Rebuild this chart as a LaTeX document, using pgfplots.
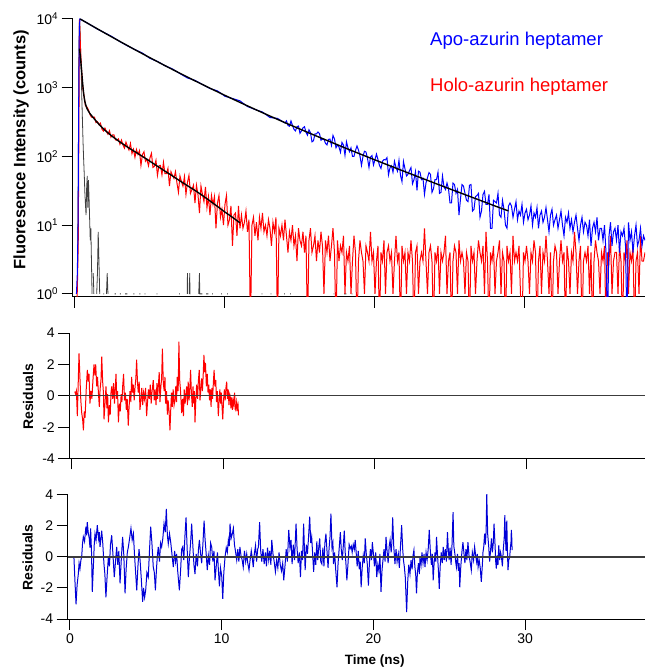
\documentclass[border=0pt]{standalone}
\usepackage{fontspec}
\setmainfont{Liberation Sans}
\usepackage{pgfplots}
\pgfplotsset{compat=1.18}
\definecolor{apoblue}{RGB}{0,0,255}
\definecolor{resblue}{RGB}{0,0,215}
\definecolor{irfgray}{RGB}{64,64,64}
\definecolor{zerogray}{RGB}{60,60,60}
\pgfplotsset{
  panel/.style={
    scale only axis,
    anchor=south west,
    axis x line*=bottom, axis y line*=left,
    axis line style={line width=1pt, black, -},
    tick align=outside,
    major tick length=11pt,
    every tick/.style={black, line width=1pt},
    tick label style={font=\fontsize{14}{14}\selectfont},
    xtick={0,10,20,30},
  }
}
\begin{document}
\begin{tikzpicture}
\path[use as bounding box] (0pt,0pt) rectangle (645pt,669pt);

% ---------------- top panel: decays ----------------
\begin{axis}[panel, at={(72.7pt,372pt)}, width=572.3pt, height=278pt,
  xmin=-0.15, xmax=38.0, ymode=log, ymin=0.9, ymax=10000,
  ytick={1,10,100,1000,10000},
  yticklabels={10\textsuperscript{0},10\textsuperscript{1},10\textsuperscript{2},10\textsuperscript{3},10\textsuperscript{4}},
  yminorticks=false, xticklabels={},
  ylabel={Fluoresence Intensity (counts)},
  ylabel style={font=\bfseries\fontsize{16.5}{16.5}\selectfont, at={(axis description cs:-0.0903,0.53)}, anchor=center}]
% IRF
\addplot[irfgray, line width=0.8pt, unbounded coords=jump] coordinates {
(0.1,nan)(0.18,3)(0.22,60)(0.26,2500)(0.3,10000)(0.34,7000)(0.38,3500)(0.42,1600)(0.46,700)(0.5,330)(0.54,160)(0.58,90)(0.62,55)(0.66,30)(0.7,20)(0.74,14)(0.78,35)(0.82,52)(0.86,18)(0.9,45)(0.94,25)(0.98,12)(1.02,6)(1.06,9)(1.1,3)(1.14,1)(1.18,nan)(1.22,2)(1.26,1)(1.3,nan)(1.45,1)(1.5,2)(1.55,8)(1.6,3)(1.65,1)(1.7,nan)(1.9,1)(1.95,1)(2.0,nan)(2.1,1)(2.15,2)(2.2,1)(2.25,nan)(2.65,1)(2.72,1)(2.76,nan)(3.0,1)(3.06,1)(3.1,nan)(3.35,1)(3.42,1)(3.5,1)(3.55,nan)(3.9,1)(3.96,1)(4.0,nan)(4.3,1)(4.36,1)(4.4,nan)(4.65,1)(4.7,1)(4.75,nan)(5.45,1)(5.5,1)(5.55,nan)(6.95,1)(7.0,1)(7.05,nan)(7.48,1)(7.5,2)(7.52,1)(7.55,nan)(7.63,1)(7.65,2)(7.67,1)(7.7,1)(7.75,nan)(8.25,1)(8.3,2)(8.32,1)(8.42,1)(8.5,1)(8.55,nan)(8.75,1)(8.82,1)(8.9,1)(8.95,nan)(9.15,1)(9.2,1)(9.25,nan)(9.75,1)(9.8,1)(9.85,nan)(10.15,1)(10.2,1)(10.25,nan)(12.45,1)(12.5,1)(12.55,nan)(13.05,1)(13.1,1)(13.15,nan)(13.95,1)(14.0,1)(14.05,nan)(14.35,1)(14.4,1)(14.45,nan)(17.25,1)(17.3,1)(17.35,nan)(17.95,1)(18.1,1)(18.15,nan)(18.45,1)(18.5,1)
};
% Holo (red) data
\addplot[red, line width=1pt] coordinates {
(0.1,0.3)(0.18,2)(0.22,6)(0.26,200)(0.3,9800)(0.33,7000)(0.36,4200)(0.4,2600)(0.45,1700)(0.5,1150)(0.55,900)
(0.6,771)(0.7,546)(0.8,523)(0.9,476)(1.0,409)(1.1,372)(1.2,374)(1.3,373)(1.4,310)(1.5,321)(1.6,290)(1.7,305)(1.8,250)(1.9,234)(2.0,258)(2.1,230)(2.2,210)(2.3,237)(2.4,191)(2.5,206)(2.6,206)(2.7,174)(2.8,172)(2.9,180)(3.0,150)(3.1,173)(3.2,147)(3.3,132)(3.4,162)(3.5,140)(3.6,124)(3.7,154)(3.8,110)(3.9,127)(4.0,97)(4.1,126)(4.2,107)(4.3,121)(4.4,74)(4.5,106)(4.6,117)(4.7,85)(4.8,91)(4.9,73)(5.0,95)(5.1,111)(5.2,69)(5.3,72)(5.4,88)(5.5,53)(5.6,73)(5.7,74)(5.8,54)(5.9,82)(6.0,56)(6.1,56)(6.2,67)(6.3,37)(6.4,60)(6.5,53)(6.6,48)(6.7,60)(6.8,41)(6.9,30)(7.0,52)(7.1,43)(7.2,37)(7.3,51)(7.4,28)(7.5,42)(7.6,53)(7.7,29)(7.8,33)(7.9,38)(8.0,21)(8.1,38)(8.2,28)(8.3,15)(8.4,37)(8.5,28)(8.6,22)(8.7,36)(8.8,18)(8.9,26)(9.0,14)(9.1,27)(9.2,20)(9.3,26)(9.4,9)(9.5,21)(9.6,27)(9.7,13)(9.8,17)(9.9,10)(10.0,20)(10.1,27)(10.2,10)(10.3,12)(10.4,19)(10.5,5)(10.6,14)(10.7,15)(10.8,7)(10.9,19)(11.0,9)
(11.1,14)(11.2,9)(11.3,11)(11.4,16)(11.5,8)(11.6,12)(11.7,0.3)(11.8,10)(11.9,13)(12.0,7)(12.1,11)(12.2,6)(12.3,13)(12.4,9)(12.5,15)(12.6,8)(12.7,10)(12.8,7)(12.9,12)(13.0,9)(13.1,5)(13.2,11)(13.3,8)(13.4,13)(13.5,0.3)(13.6,9)(13.7,7)(13.8,10)(13.9,6)(14.0,12)(14.1,7)(14.2,4)(14.3,8)(14.4,6)(14.5,10)(14.6,5)(14.7,7)(14.8,3)(14.9,9)(15.0,6)(15.1,5)(15.2,8)(15.3,4)(15.4,7)(15.5,0.3)(15.6,6)(15.7,9)(15.8,4)(15.9,5)(16.0,7)(16.1,3)(16.2,6)(16.3,4)(16.4,8)(16.5,5)(16.6,1)(16.7,6)(16.8,4)(16.9,7)(17.0,3)(17.1,5)(17.2,9)(17.3,4)(17.4,0.3)(17.5,6)(17.6,3)(17.7,5)(17.8,4)(17.9,7)(18.0,1)
(18.1,4)(18.2,3)(18.3,5)(18.4,1)(18.5,3)(18.6,7)(18.7,4)(18.8,0.3)(18.9,3)(19.0,6)(19.1,4)(19.2,3)(19.3,1)(19.4,5)(19.5,4)(19.6,3)(19.7,8)(19.8,3)(19.9,4)(20.0,1)
(20.1,3)(20.2,5)(20.3,0.3)(20.4,4)(20.5,3)(20.6,6)(20.7,1)(20.8,4)(20.9,5)(21.0,3)(21.1,4)(21.2,1)(21.3,3)(21.4,7)(21.5,3)(21.6,4)(21.7,0.3)(21.8,5)(21.9,3)(22.0,4)
(22.1,1)(22.2,4)(22.3,3)(22.4,6)(22.5,3)(22.6,0.3)(22.7,4)(22.8,5)(22.9,1)(23.0,3)(23.1,4)(23.2,3)(23.3,9)(23.4,3)(23.5,1)(23.6,4)(23.7,5)(23.8,3)(23.9,0.3)(24.0,4)
(24.1,3)(24.2,5)(24.3,1)(24.4,4)(24.5,3)(24.6,4)(24.7,7)(24.8,1)(24.9,3)(25.0,4)(25.1,0.3)(25.2,3)(25.3,5)(25.4,4)(25.5,1)(25.6,6)(25.7,3)(25.8,4)(25.9,3)(26.0,1)
(26.1,4)(26.2,3)(26.3,0.3)(26.4,5)(26.5,3)(26.6,4)(26.7,1)(26.8,3)(26.9,6)(27.0,4)(27.1,3)(27.2,5)(27.3,1)(27.4,8)(27.5,3)(27.6,0.3)(27.7,4)(27.8,3)(27.9,5)(28.0,1)
(28.1,3)(28.2,4)(28.3,6)(28.4,1)(28.5,4)(28.6,3)(28.7,0.3)(28.8,5)(28.9,3)(29.0,4)(29.1,1)(29.2,7)(29.3,3)(29.4,4)(29.5,3)(29.6,5)(29.7,1)(29.8,0.3)(29.9,4)(30.0,3)
(30.1,5)(30.2,3)(30.3,1)(30.4,4)(30.5,3)(30.6,6)(30.7,4)(30.8,0.3)(30.9,3)(31.0,5)(31.1,1)(31.2,4)(31.3,3)(31.4,7)(31.5,3)(31.6,1)(31.7,4)(31.8,0.3)(31.9,3)(32.0,5)
(32.1,4)(32.2,1)(32.3,3)(32.4,6)(32.5,3)(32.6,4)(32.7,0.3)(32.8,5)(32.9,3)(33.0,1)(33.1,4)(33.2,3)(33.3,8)(33.4,4)(33.5,1)(33.6,3)(33.7,5)(33.8,0.3)(33.9,3)(34.0,4)
(34.1,3)(34.2,5)(34.3,1)(34.4,4)(34.5,0.3)(34.6,3)(34.7,6)(34.8,4)(34.9,3)(35.0,1)(35.1,4)(35.2,3)(35.3,5)(35.4,0.3)(35.5,4)(35.6,3)(35.7,7)(35.8,1)(35.9,3)(36.0,4)
(36.1,4)(36.2,1)(36.3,5)(36.4,3)(36.5,0.3)(36.6,4)(36.7,3)(36.8,6)(36.9,1)(37.0,4)(37.1,3)(37.2,5)(37.3,0.3)(37.4,3)(37.5,4)(37.6,1)(37.7,7)(37.8,3)(37.9,3)(38.0,4)
};
% Apo (blue) data
\addplot[apoblue, line width=1pt] coordinates {
(0.1,1)(0.16,2)(0.21,12)(0.25,600)(0.29,7000)(0.33,10000)(0.38,9900)(0.45,9700)(0.6,9300)(1.0,8302)(1.5,7120)(2.0,6269)(2.5,5486)(3.0,4688)(3.5,4065)(4.0,3579)(4.5,3193)(5.0,2676)(5.5,2409)(6.0,2091)(6.5,1877)(7.0,1603)(7.5,1385)(8.0,1280)(8.5,1113)(9.0,974)(9.5,899)(10.0,750)(10.5,697)(11.0,644)(11.5,532)(12.0,483)(12.5,443)(13.0,368)(13.5,358)(14.0,306)
(14.1,329)(14.2,282)(14.3,275)(14.4,328)(14.5,283)(14.6,248)(14.7,235)(14.8,271)(14.9,277)(15.0,217)(15.1,235)(15.2,260)(15.3,271)(15.4,225)(15.5,204)(15.6,244)(15.7,222)(15.8,163)(15.9,169)(16.0,213)(16.1,213)(16.2,227)(16.3,215)(16.4,172)(16.5,178)(16.6,178)(16.7,155)(16.8,147)(16.9,177)(17.0,179)(17.1,145)(17.2,202)(17.3,180)(17.4,134)(17.5,148)(17.6,137)(17.7,115)(17.8,160)(17.9,146)(18.0,104)(18.1,163)(18.2,133)(18.3,117)(18.4,133)(18.5,100)(18.6,100)(18.7,122)(18.8,142)(18.9,124)(19.0,101)(19.1,74)(19.2,100)(19.3,119)(19.4,116)(19.5,94)(19.6,69)(19.7,98)(19.8,103)(19.9,75)(20.0,90)
(20.1,108)(20.2,90)(20.3,74)(20.4,67)(20.5,85)(20.6,90)(20.7,89)(20.8,96)(20.9,54)(21.0,68)(21.1,73)(21.2,59)(21.3,85)(21.4,69)(21.5,61)(21.6,88)(21.7,53)(21.8,43)(21.9,84)(22.0,66)(22.1,52)(22.2,55)(22.3,62)(22.4,69)(22.5,40)(22.6,46)(22.7,60)(22.8,32)(22.9,61)(23.0,59)(23.1,46)(23.2,48)(23.3,28)(23.4,41)(23.5,49)(23.6,58)(23.7,55)(23.8,30)(23.9,34)(24.0,46)(24.1,46)(24.2,59)(24.3,29)(24.4,30)(24.5,52)(24.6,36)(24.7,33)(24.8,41)(24.9,34)(25.0,21)(25.1,21)(25.2,41)(25.3,39)(25.4,29)(25.5,33)(25.6,14)(25.7,24)(25.8,39)(25.9,37)(26.0,29)(26.1,23)(26.2,22)(26.3,38)(26.4,39)(26.5,16)(26.6,17)(26.7,26)(26.8,27)(26.9,29)(27.0,13)(27.1,16)(27.2,28)(27.3,31)(27.4,20)(27.5,20)(27.6,28)(27.7,9)(27.8,9)(27.9,23)(28.0,22)(28.1,21)(28.2,29)(28.3,14)(28.4,13)(28.5,23)(28.6,17)(28.7,10)(28.8,9)(28.9,19)(29.0,21)
(29.1,19)(29.2,13)(29.3,17)(29.4,22)(29.5,12)(29.6,16)(29.7,14)(29.8,20)(29.9,11)(30.0,15)(30.1,17)(30.2,12)(30.3,14)(30.4,19)(30.5,10)(30.6,15)(30.7,13)(30.8,18)(30.9,9)(31.0,14)(31.1,16)(31.2,11)(31.3,13)(31.4,18)(31.5,12)(31.6,8)(31.7,14)(31.8,17)(31.9,10)(32.0,12)(32.1,14)(32.2,9)(32.3,12)(32.4,16)(32.5,10)(32.6,7)(32.7,13)(32.8,11)(32.9,15)(33.0,9)(33.1,12)(33.2,8)(33.3,11)(33.4,14)(33.5,9)(33.6,6)(33.7,10)(33.8,13)(33.9,8)(34.0,11)(34.1,10)(34.2,7)(34.3,12)(34.4,5)(34.5,9)(34.6,11)(34.7,8)(34.8,13)(34.9,6)(35.0,9)(35.1,9)(35.2,6)(35.3,10)(35.4,4)(35.5,0.3)(35.6,7)(35.7,11)(35.8,5)(35.9,8)(36.0,9)(36.1,6)(36.2,10)(36.3,4)(36.4,8)(36.5,7)(36.6,9)(36.7,5)(36.8,0.3)(36.9,11)(37.0,6)(37.1,8)(37.2,4)(37.3,7)(37.4,10)(37.5,5)(37.6,6)(37.7,9)(37.8,5)(37.9,7)(38.0,6)
};
% fits
\addplot[black, line width=1.4pt] coordinates {
(0.35,10000)(0.5,9574)(1,8285)(1.5,7180)(2,6228)(3,4706)(4,3575)(5,2730)(6,2097)(7,1621)(8,1259)(9,984)(10,773)(11,611)(12,485)(13,387)(14,310)(15,250)(16,202)(17,164)(18,133)(19,108.8)(20,89)(21,73)(22,60)(23,49.4)(24,40.7)(25,33.6)(26,27.8)(27,23)(28,19)(28.9,16.1)
};
\addplot[black, line width=1.4pt] coordinates {
(0.3,3700)(0.35,3000)(0.4,2300)(0.45,1700)(0.5,1250)(0.55,950)(0.6,760)(0.65,650)(0.7,580)(0.8,500)(0.9,455)(1.0,420)(1.25,360)(1.5,310)(1.75,272)(2.0,240)(2.5,195)(3.0,162)(3.5,137)(4.0,117)(4.5,100)(5.0,85)(5.5,72)(6.0,61)(6.5,52)(7.0,44)(7.5,37.5)(8.0,32)(8.5,27)(9.0,22.5)(9.5,18.7)(10.0,15.5)(10.5,13)(11.0,10.8)
};
\end{axis}

% ---------------- middle panel: holo residuals ----------------
\begin{axis}[panel, at={(69.3pt,210.5pt)}, width=575.7pt, height=125.5pt,
  xmin=-0.16, xmax=37.81, ymin=-4, ymax=4,
  ytick={-4,-2,0,2,4}, yticklabels={-4,-2,0,2,4}, xticklabels={},
  ylabel={Residuals},
  ylabel style={font=\bfseries\fontsize{14}{14}\selectfont, at={(axis description cs:-0.0717,0.492)}, anchor=center}]
\addplot[red, line width=1pt] coordinates {
(0.2,0.27)(0.26,0.1)(0.31,0.3)(0.37,-1.3)(0.42,0.5)(0.48,2.7)(0.54,1.2)(0.6,-0.3)(0.66,-1.1)(0.72,-1.5)(0.77,-2.2)(0.83,-1.0)(0.88,-1.4)(0.95,0.3)(1.03,1.65)(1.08,0.9)(1.14,1.4)(1.2,-0.5)(1.27,0.3)(1.33,-0.2)(1.4,1.0)(1.47,2.0)(1.53,1.3)(1.58,2.0)(1.65,0.6)(1.7,1.2)(1.76,0.2)(1.82,-0.7)(1.87,0.4)(1.93,1.0)(1.98,2.5)(2.04,0.9)(2.09,0.2)(2.13,-1.5)(2.2,-0.4)(2.26,0.6)(2.32,-0.8)(2.37,0.1)(2.42,-1.7)(2.48,-0.6)(2.54,-1.2)(2.59,0.2)(2.64,0.6)(2.7,-0.2)(2.76,0.8)(2.82,-0.5)(2.87,0.4)(2.92,1.4)(2.97,-0.2)(3.02,0.3)(3.08,-1.7)(3.14,-0.5)(3.2,-1.0)(3.26,0.1)(3.31,-0.4)(3.36,0.6)(3.42,1.4)(3.48,-0.3)(3.54,0.2)(3.6,-0.9)(3.66,-0.2)(3.73,-1.9)(3.78,-0.8)(3.84,0.3)(3.9,-0.4)(3.95,1.2)(4.01,0.2)(4.06,0.7)(4.12,-0.3)(4.18,0.6)(4.23,1.1)(4.28,2.3)(4.34,0.8)(4.39,0.2)(4.45,0.9)(4.5,-0.9)(4.56,-0.3)(4.62,0.5)(4.68,-0.6)(4.74,0.2)(4.8,-0.2)(4.87,0.5)(4.94,-1.3)(5.0,-0.4)(5.06,0.4)(5.12,-0.2)(5.18,0.7)(5.24,-0.5)(5.3,0.3)(5.38,1.0)(5.44,-0.3)(5.5,0.4)(5.56,-0.6)(5.62,0.8)(5.66,-0.2)(5.71,0.6)(5.77,1.5)(5.82,-0.4)(5.88,0.6)(5.93,1.1)(5.98,3.0)(6.04,0.8)(6.1,0.3)(6.15,1.2)(6.19,-0.5)(6.25,0.3)(6.31,-1.2)(6.36,-0.3)(6.42,-1.0)(6.48,-2.2)(6.53,-0.9)(6.58,0.2)(6.63,-0.7)(6.69,0.4)(6.75,-0.6)(6.81,-0.25)(6.86,0.6)(6.91,-0.4)(6.96,1.2)(7.02,0.3)(7.07,3.45)(7.12,1.0)(7.17,0.4)(7.21,-0.3)(7.25,-1.1)(7.31,-0.2)(7.37,-1.3)(7.42,0.4)(7.48,-0.5)(7.53,0.1)(7.58,0.6)(7.63,-0.6)(7.68,0.9)(7.74,-0.3)(7.79,0.5)(7.84,1.65)(7.89,0.2)(7.95,-0.7)(8.0,0.6)(8.05,-0.5)(8.09,0.3)(8.13,-1.7)(8.18,-0.4)(8.24,0.7)(8.3,-0.2)(8.35,0.9)(8.41,1.65)(8.46,-0.3)(8.52,0.5)(8.57,1.1)(8.62,0.3)(8.67,1.3)(8.72,2.6)(8.77,1.5)(8.82,2.1)(8.88,0.6)(8.94,1.4)(8.99,0.2)(9.04,0.7)(9.09,-0.3)(9.14,0.4)(9.19,-0.7)(9.24,0.5)(9.29,-0.2)(9.34,0.8)(9.39,1.65)(9.44,0.6)(9.5,1.0)(9.55,-0.4)(9.6,0.3)(9.67,-1.3)(9.72,-0.3)(9.77,0.4)(9.82,-0.5)(9.87,0.2)(9.92,-0.8)(9.96,-1.5)(10.02,-0.2)(10.07,0.4)(10.12,-0.3)(10.17,0.5)(10.22,0.9)(10.27,-0.2)(10.32,0.4)(10.37,-0.6)(10.42,0.1)(10.45,0.0)(10.5,-0.8)(10.55,-0.1)(10.6,-0.9)(10.65,-0.3)(10.7,-0.6)(10.74,0.2)(10.78,-0.5)(10.83,-1.0)(10.88,-0.4)(10.93,-0.8)(10.97,-0.6)(11.0,-1.25)
};
\addplot[zerogray, line width=1.4pt] coordinates {(-0.16,0)(37.81,0)};
\end{axis}

% ---------------- bottom panel: apo residuals ----------------
\begin{axis}[panel, at={(67.7pt,50pt)}, width=577.3pt, height=124pt,
  xmin=-0.15, xmax=37.9, ymin=-4, ymax=4,
  ytick={-4,-2,0,2,4}, yticklabels={-4,-2,0,2,4}, xticklabels={0,10,20,30},
  ylabel={Residuals},
  ylabel style={font=\bfseries\fontsize{14}{14}\selectfont, at={(axis description cs:-0.0696,0.496)}, anchor=center},
  xlabel={Time (ns)},
  xlabel style={font=\bfseries\fontsize{13.5}{13.5}\selectfont, at={(axis description cs:0.532,-0.339)}, anchor=center}]
\addplot[resblue, line width=1pt] coordinates {
(0.26,0)(0.33,-1.6)(0.4,-3.05)(0.47,-1.8)(0.55,-1.1)(0.6,-0.4)(0.66,-0.75)(0.72,-0.2)(0.77,0)(0.83,0.9)(0.88,1.3)(0.96,1.0)(1.05,1.95)(1.1,1.4)(1.14,2.25)(1.2,1.6)(1.27,1.2)(1.32,0.6)(1.36,1.85)(1.42,0.3)(1.47,-2.25)(1.55,-0.4)(1.6,0.8)(1.65,1.5)(1.72,1.1)(1.8,2.05)(1.88,1.2)(1.93,1.6)(1.98,0.65)(2.04,1.2)(2.09,1.7)(2.16,0.9)(2.24,-0.45)(2.3,-1.1)(2.37,-2.6)(2.45,-1.2)(2.53,0)(2.6,-0.6)(2.67,0.8)(2.75,1.4)(2.83,0.2)(2.92,-1.3)(3.0,-0.3)(3.08,0.65)(3.15,-0.5)(3.22,0.4)(3.3,-1.7)(3.38,-0.2)(3.47,1.3)(3.55,0.1)(3.63,-2.35)(3.7,-0.8)(3.78,0.3)(3.85,0.65)(3.93,1.2)(4.02,1.85)(4.1,1.1)(4.18,1.5)(4.25,0.2)(4.32,-0.9)(4.4,-2.15)(4.48,-0.6)(4.55,0.5)(4.62,-0.2)(4.7,-1.4)(4.79,-2.9)(4.85,-2.0)(4.92,-2.6)(4.99,-2.15)(5.07,-1.0)(5.16,-1.3)(5.24,0.4)(5.32,1.95)(5.4,0.9)(5.49,-0.65)(5.56,-1.0)(5.63,-2.15)(5.7,-0.8)(5.76,0.1)(5.82,0.65)(5.9,-0.3)(5.97,0.9)(6.04,0.65)(6.12,1.2)(6.2,2.15)(6.28,1.6)(6.35,3.1)(6.42,1.4)(6.48,0.85)(6.56,1.5)(6.64,0.95)(6.72,0.2)(6.81,-0.65)(6.9,0.4)(6.96,-0.3)(7.03,0.2)(7.1,-0.9)(7.21,-2.15)(7.3,-0.7)(7.36,0.5)(7.43,0.65)(7.5,-0.2)(7.58,1.4)(7.65,2.55)(7.72,0.6)(7.8,-1.3)(7.87,-0.1)(7.95,0.9)(8.02,2.15)(8.1,0.7)(8.17,-0.5)(8.24,-1.1)(8.32,0.2)(8.4,-0.6)(8.47,0.5)(8.53,1.1)(8.6,0.3)(8.68,-0.4)(8.76,0.8)(8.84,2.35)(8.9,1.2)(8.97,0.3)(9.05,-0.85)(9.12,0.1)(9.2,-0.5)(9.27,0.9)(9.34,0.65)(9.42,-0.3)(9.49,0.4)(9.56,-1.5)(9.64,-0.6)(9.72,0.3)(9.78,-0.8)(9.85,-1.9)(9.92,-0.7)(10.0,-1.2)(10.07,-2.7)(10.14,-1.0)(10.22,0)(10.3,0.6)(10.37,0.3)(10.44,1.1)(10.5,0.7)(10.55,2.15)(10.62,1.2)(10.7,1.5)(10.77,1.85)(10.84,0.8)(10.92,0.3)(10.99,-0.2)(11.06,0.5)(11.13,-0.3)(11.2,0.65)(11.27,0.1)(11.35,-0.2)(11.42,-0.65)(11.5,0.4)(11.58,-0.3)(11.65,0.2)(11.72,-0.4)(11.8,-0.85)(11.87,-0.2)(11.95,0.4)(12.02,-0.1)(12.08,-0.65)(12.15,0.2)(12.23,0.75)(12.3,-0.3)(12.37,0.5)(12.42,0.65)(12.5,2.25)(12.57,0.4)(12.64,-0.3)(12.72,0.5)(12.8,-0.45)(12.88,0.3)(12.95,-0.6)(13.02,0.6)(13.1,-0.2)(13.17,0.4)(13.24,-0.5)(13.3,1.1)(13.38,0.2)(13.46,-0.3)(13.54,-0.95)(13.62,-0.2)(13.7,-0.7)(13.78,0.3)(13.86,-0.5)(13.94,-0.9)(14.02,-0.4)(14.09,-1.5)(14.17,-0.6)(14.25,0.5)(14.33,-0.3)(14.42,1.75)(14.5,0.6)(14.57,1.1)(14.64,-0.45)(14.72,0.8)(14.8,-0.2)(14.9,2.15)(14.97,0.5)(15.04,-0.4)(15.12,0.3)(15.19,-1.3)(15.26,0.4)(15.33,-0.2)(15.4,2.15)(15.45,0.6)(15.5,-0.85)(15.58,0.8)(15.65,0.2)(15.72,1.2)(15.8,2.6)(15.87,0.9)(15.93,1.3)(16.0,0.1)(16.06,-0.95)(16.13,0.3)(16.2,-0.5)(16.27,1.0)(16.33,-0.2)(16.39,0.55)(16.46,1.2)(16.53,-0.3)(16.6,-0.45)(16.67,0.6)(16.74,-0.6)(16.8,0.9)(16.87,1.5)(16.94,0.4)(17.01,-0.7)(17.08,0.6)(17.14,1.3)(17.2,2.8)(17.27,0.6)(17.33,0.9)(17.37,-0.45)(17.44,0.3)(17.52,-0.9)(17.6,-1.95)(17.67,-0.4)(17.74,0.5)(17.82,1.6)(17.88,0.5)(17.95,-0.2)(18.02,0.8)(18.08,1.7)(18.14,0.3)(18.2,-0.6)(18.25,-1.5)(18.32,-0.5)(18.4,0.8)(18.47,0.55)(18.54,0.7)(18.6,0.3)(18.67,0.8)(18.74,0.5)(18.8,1.1)(18.87,0.2)(18.93,-0.6)(19.0,0.4)(19.07,-0.8)(19.13,-0.3)(19.19,-1.95)(19.26,-0.7)(19.33,0.1)(19.4,-0.4)(19.46,1.2)(19.53,0.2)(19.6,-0.5)(19.67,-1.85)(19.74,-0.3)(19.8,0.5)(19.87,-0.2)(19.93,0.95)(20.0,0.2)(20.07,-0.6)(20.15,0.3)(20.22,-1.3)(20.29,-0.5)(20.36,-0.9)(20.43,0.2)(20.5,-2.25)(20.57,-0.8)(20.63,-0.2)(20.7,0.5)(20.77,-0.3)(20.83,1.3)(20.9,0.4)(20.97,-0.4)(21.04,0.7)(21.1,1.1)(21.17,0.3)(21.22,1.0)(21.27,2.55)(21.34,0.7)(21.42,-0.45)(21.49,0.5)(21.56,-0.3)(21.64,0.2)(21.71,-0.7)(21.78,0.6)(21.86,2.05)(21.93,0.5)(21.98,-0.2)(22.04,-0.65)(22.1,-1.3)(22.19,-3.55)(22.26,-1.6)(22.33,-0.5)(22.41,-1.1)(22.48,-0.2)(22.55,-0.8)(22.61,0.1)(22.67,0.45)(22.73,-0.6)(22.79,-1.2)(22.84,-2.35)(22.9,-1.0)(22.97,-0.4)(23.03,-1.1)(23.07,0)(23.14,-0.5)(23.2,0.3)(23.27,-0.4)(23.34,0.2)(23.4,-0.65)(23.47,0.3)(23.54,-0.2)(23.61,0.5)(23.68,1.75)(23.75,0.4)(23.82,-0.5)(23.88,0.2)(23.94,-1.5)(24.0,-0.4)(24.06,0.3)(24.11,-0.3)(24.16,1.3)(24.22,0.2)(24.28,-0.8)(24.34,-2.05)(24.4,-0.6)(24.47,0.3)(24.54,-0.4)(24.6,0.65)(24.67,-0.2)(24.74,0.5)(24.81,-0.3)(24.88,1.6)(24.94,0.4)(24.99,-0.2)(25.05,0.6)(25.12,-0.5)(25.18,0.8)(25.25,2.9)(25.3,0.7)(25.37,0.2)(25.42,-0.3)(25.47,-0.65)(25.54,0.2)(25.6,-0.9)(25.65,-0.4)(25.69,-1.95)(25.76,-0.6)(25.83,0.3)(25.9,0.95)(25.97,0.2)(26.03,-0.4)(26.1,0.5)(26.16,-0.2)(26.23,0.95)(26.3,0.1)(26.37,-0.3)(26.45,-0.85)(26.52,0.3)(26.6,-0.2)(26.67,0.65)(26.74,0.1)(26.8,-0.3)(26.85,0.2)(26.9,-0.65)(26.97,-0.2)(27.04,-0.7)(27.11,-1.6)(27.18,-0.5)(27.22,0.3)(27.27,0.65)(27.33,1.5)(27.38,0.8)(27.43,1.7)(27.47,4.05)(27.53,1.5)(27.6,0.65)(27.66,-0.3)(27.72,0.4)(27.78,1.2)(27.84,0.3)(27.9,0.9)(27.95,2.15)(28.02,0.7)(28.06,-0.3)(28.1,-0.75)(28.16,0.1)(28.21,-0.5)(28.26,0.75)(28.32,-0.2)(28.38,0.3)(28.44,0)(28.5,-0.6)(28.56,0.5)(28.62,1.2)(28.66,2.7)(28.7,1.3)(28.74,0.4)(28.79,2.35)(28.83,0.5)(28.87,-0.85)(28.92,-0.2)(28.98,0)(29.03,0.6)(29.07,1.0)(29.09,1.75)(29.12,1.2)(29.14,0.45)
};
\addplot[zerogray, line width=1.4pt] coordinates {(-0.15,0)(37.9,0)};
\end{axis}

% legend texts
\node[anchor=base west, text=apoblue, font=\fontsize{18.5}{18.5}\selectfont, inner sep=0pt] at (430pt,623pt) {Apo-azurin heptamer};
\node[anchor=base west, text=red, font=\fontsize{18.5}{18.5}\selectfont, inner sep=0pt] at (430pt,577pt) {Holo-azurin heptamer};
\end{tikzpicture}
\end{document}
